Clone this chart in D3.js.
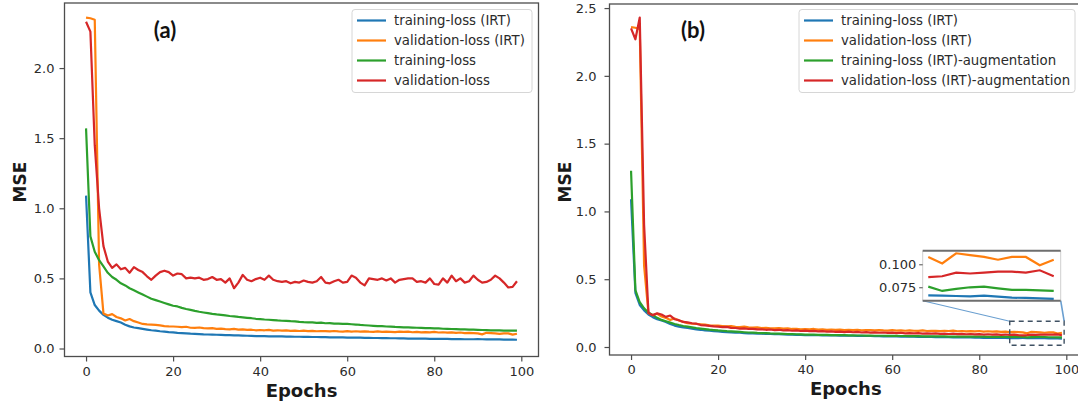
<!DOCTYPE html>
<html>
<head>
<meta charset="utf-8">
<script src="https://cdn.jsdelivr.net/npm/d3@7"></script>
<style>
  body { margin: 0; background: #fff; }
  text { font-family: "DejaVu Sans", sans-serif; fill: #2b2b2b; }
</style>
</head>
<body>
<svg id="chart" width="1078" height="406"></svg>
<script>
// values, one per epoch (0..99)
const trainIRT = [1.09,0.40,0.31,0.27,0.24,0.22,0.205,0.195,0.185,0.17,
  0.158,0.15,0.145,0.14,0.135,0.13,0.127,0.123,0.12,0.117,
  0.115,0.112,0.11,0.108,0.106,0.105,0.103,0.101,0.1,0.099,
  0.098,0.097,0.096,0.095,0.094,0.093,0.092,0.091,0.09,0.089,
  0.088,0.088,0.087,0.087,0.086,0.086,0.085,0.085,0.084,0.084,
  0.083,0.083,0.082,0.082,0.081,0.081,0.08,0.08,0.079,0.079,
  0.078,0.078,0.077,0.077,0.076,0.076,0.075,0.075,0.074,0.074,
  0.073,0.073,0.072,0.072,0.071,0.071,0.07,0.07,0.07,0.069,
  0.069,0.068,0.068,0.068,0.067,0.067,0.067,0.066,0.066,0.066,
  0.0663,0.0659,0.0655,0.0652,0.0659,0.0648,0.0637,0.0634,0.063,0.0623];

const valIRT = [2.36,2.355,2.345,0.6,0.25,0.235,0.245,0.225,0.215,0.2,
  0.21,0.195,0.185,0.175,0.172,0.17,0.168,0.165,0.16,0.158,
  0.157,0.155,0.152,0.155,0.148,0.147,0.15,0.145,0.143,0.145,
  0.14,0.142,0.138,0.137,0.14,0.135,0.137,0.133,0.134,0.13,
  0.132,0.13,0.133,0.128,0.13,0.127,0.129,0.126,0.128,0.125,
  0.127,0.124,0.126,0.123,0.125,0.124,0.122,0.125,0.122,0.121,
  0.124,0.121,0.123,0.12,0.122,0.12,0.119,0.122,0.118,0.12,
  0.119,0.117,0.12,0.118,0.121,0.116,0.118,0.115,0.117,0.115,
  0.118,0.114,0.116,0.113,0.115,0.112,0.114,0.11,0.112,0.11,
  0.108,0.101,0.112,0.11,0.108,0.105,0.108,0.108,0.099,0.105];

const trainLoss = [1.57,0.80,0.69,0.63,0.585,0.54,0.51,0.49,0.465,0.45,
  0.43,0.415,0.4,0.385,0.37,0.355,0.345,0.335,0.325,0.315,
  0.305,0.3,0.29,0.282,0.275,0.268,0.262,0.257,0.252,0.247,
  0.243,0.24,0.236,0.232,0.229,0.225,0.222,0.219,0.216,0.212,
  0.21,0.207,0.205,0.203,0.2,0.198,0.197,0.195,0.194,0.19,
  0.188,0.187,0.186,0.183,0.184,0.18,0.181,0.178,0.177,0.176,
  0.175,0.173,0.171,0.168,0.166,0.164,0.162,0.16,0.159,0.157,
  0.156,0.154,0.153,0.151,0.15,0.149,0.148,0.147,0.146,0.145,
  0.144,0.143,0.141,0.14,0.139,0.138,0.137,0.136,0.135,0.134,
  0.133,0.132,0.131,0.13,0.13,0.129,0.128,0.128,0.127,0.127];

const valLoss = [2.33,2.26,1.45,1.0,0.73,0.62,0.575,0.6,0.565,0.575,
  0.54,0.58,0.56,0.545,0.515,0.49,0.52,0.545,0.555,0.545,
  0.52,0.535,0.53,0.5,0.505,0.5,0.505,0.49,0.495,0.51,
  0.49,0.495,0.47,0.5,0.43,0.47,0.525,0.49,0.48,0.495,
  0.505,0.49,0.52,0.49,0.48,0.475,0.48,0.465,0.475,0.47,
  0.485,0.475,0.47,0.48,0.51,0.47,0.465,0.48,0.49,0.47,
  0.475,0.52,0.505,0.47,0.45,0.5,0.495,0.49,0.5,0.485,
  0.5,0.47,0.49,0.495,0.5,0.5,0.475,0.48,0.47,0.5,
  0.46,0.455,0.5,0.47,0.52,0.48,0.5,0.47,0.48,0.52,
  0.49,0.47,0.475,0.49,0.52,0.5,0.47,0.435,0.44,0.48];

const trainAug = [1.30,0.42,0.33,0.285,0.255,0.235,0.215,0.2,0.19,0.18,
  0.17,0.162,0.155,0.15,0.145,0.14,0.136,0.132,0.128,0.125,
  0.122,0.12,0.117,0.115,0.113,0.111,0.109,0.107,0.106,0.104,
  0.103,0.102,0.1,0.099,0.098,0.097,0.096,0.095,0.094,0.093,
  0.092,0.092,0.091,0.09,0.09,0.089,0.088,0.088,0.087,0.087,
  0.086,0.086,0.085,0.085,0.084,0.084,0.083,0.083,0.083,0.082,
  0.082,0.082,0.081,0.081,0.08,0.08,0.08,0.079,0.079,0.079,
  0.078,0.078,0.078,0.077,0.077,0.077,0.077,0.076,0.076,0.076,
  0.076,0.076,0.075,0.075,0.075,0.075,0.075,0.074,0.074,0.075,
  0.0757,0.071,0.0732,0.075,0.0757,0.0739,0.0721,0.0721,0.0717,0.071];

const valAug = [2.35,2.27,2.43,0.9,0.25,0.235,0.248,0.24,0.222,0.232,
  0.205,0.198,0.185,0.182,0.175,0.172,0.162,0.16,0.156,0.152,
  0.15,0.146,0.148,0.141,0.14,0.136,0.138,0.133,0.134,0.13,
  0.131,0.127,0.129,0.125,0.127,0.122,0.124,0.12,0.122,0.118,
  0.121,0.117,0.119,0.115,0.117,0.113,0.115,0.112,0.114,0.11,
  0.113,0.109,0.111,0.107,0.11,0.106,0.108,0.105,0.107,0.104,
  0.106,0.102,0.105,0.101,0.103,0.1,0.102,0.099,0.101,0.098,
  0.1,0.097,0.099,0.096,0.098,0.095,0.097,0.094,0.096,0.093,
  0.095,0.092,0.094,0.091,0.093,0.09,0.092,0.089,0.091,0.088,
  0.086,0.087,0.091,0.09,0.091,0.092,0.092,0.091,0.0935,0.087];

const xTicks = [0, 20, 40, 60, 80, 100];
const yTicksA = [0, 0.5, 1.0, 1.5, 2.0];
const yTicksB = [0, 0.5, 1.0, 1.5, 2.0, 2.5];
const insetTicks = [0.075, 0.100];
const labelsA = ["training-loss (IRT)", "validation-loss (IRT)", "training-loss", "validation-loss"];
const labelsB = ["training-loss (IRT)", "validation-loss (IRT)", "training-loss (IRT)-augmentation", "validation-loss (IRT)-augmentation"];
const colors = ["#1f77b4", "#ff7f0e", "#2ca02c", "#d62728"];

const svg = d3.select("#chart");
svg.append("rect").attr("width", 1078).attr("height", 406).attr("fill", "#fff");

const panel = (o) => {
  let x = d3.scaleLinear().domain([-4.95, 103.95]).range([o.left, o.right]);
  let y = d3.scaleLinear().domain(o.ydom).range([o.bottom, o.top]);
  let g = svg.append("g");

  let clipId = "clip" + o.name;
  g.append("clipPath").attr("id", clipId)
    .append("rect")
    .attr("x", o.left).attr("y", o.top)
    .attr("width", o.right - o.left).attr("height", o.bottom - o.top);

  let line = d3.line().x((d, i) => x(i)).y(d => y(d));
  let plot = g.append("g").attr("clip-path", `url(#${clipId})`);
  o.series.forEach((s, k) => {
    plot.append("path")
      .datum(s)
      .attr("fill", "none")
      .attr("stroke", colors[k])
      .attr("stroke-width", 2.2)
      .attr("stroke-linejoin", "round")
      .attr("d", line);
  });

  // axes
  let xa = g.append("g")
    .attr("transform", `translate(0,${o.bottom})`)
    .call(d3.axisBottom(x).tickValues(xTicks).tickSize(5).tickPadding(5).tickFormat(d3.format("d")));
  let ya = g.append("g")
    .attr("transform", `translate(${o.left},0)`)
    .call(d3.axisLeft(y).tickValues(o.yticks).tickSize(5).tickPadding(o.ypad).tickFormat(d3.format(".1f")));
  [xa, ya].forEach(a => {
    a.select(".domain").remove();
    a.selectAll("line").attr("stroke", "#4d4d4d").attr("stroke-width", 1.2);
    a.selectAll("text").style("font-size", "13px").style("fill", "#2b2b2b");
  });

  g.append("rect")
    .attr("x", o.left).attr("y", o.top)
    .attr("width", o.right - o.left).attr("height", o.bottom - o.top)
    .attr("fill", "none").attr("stroke", "#4d4d4d").attr("stroke-width", 1.3);

  g.append("text")
    .attr("x", (o.left + Math.min(o.right, 1078)) / 2 + o.xlabShift).attr("y", o.bottom + 40)
    .attr("text-anchor", "middle")
    .style("font-size", "18px").style("font-weight", "bold").style("fill", "#1a1a1a")
    .text("Epochs");

  g.append("text")
    .attr("transform", `translate(${o.ylabX},182) rotate(-90)`)
    .attr("text-anchor", "middle")
    .style("font-size", "17px").style("font-weight", "bold").style("fill", "#1a1a1a")
    .text("MSE");

  g.append("text")
    .attr("x", o.tagX).attr("y", 29)
    .attr("text-anchor", "middle").attr("dominant-baseline", "central")
    .style("font-family", "Lato, 'Open Sans', sans-serif")
    .style("font-size", "22px").style("font-weight", "bold").style("fill", "#111")
    .text(o.tag);

  // legend
  let lg = g.append("g");
  lg.append("rect")
    .attr("x", o.leg[0]).attr("y", 9.5)
    .attr("width", o.leg[1] - o.leg[0]).attr("height", 83)
    .attr("rx", 3)
    .attr("fill", "#fff").attr("fill-opacity", 0.85)
    .attr("stroke", "#d6d6d6");
  o.labels.forEach((t, k) => {
    let yy = 20.5 + k * 20;
    lg.append("line")
      .attr("x1", o.leg[0] + 5).attr("x2", o.leg[0] + 34)
      .attr("y1", yy).attr("y2", yy)
      .attr("stroke", colors[k]).attr("stroke-width", 2.2);
    lg.append("text")
      .attr("x", o.leg[0] + 42).attr("y", yy)
      .attr("dominant-baseline", "central")
      .style("font-size", "13.3px")
      .text(t);
  });

  return {x, y, g};
};

panel({
  name: "a", left: 64.5, right: 538.5, top: 3, bottom: 356.5,
  ydom: [-0.057, 2.464], yticks: yTicksA, ypad: 5, xlabShift: 0,
  ylabX: 25.5, tagX: 165, tag: "(a)", leg: [352, 532], labels: labelsA,
  series: [trainIRT, valIRT, trainLoss, valLoss]
});

const b = panel({
  name: "b", left: 609.5, right: 1083.5, top: 4, bottom: 355,
  ydom: [-0.059, 2.53], yticks: yTicksB, ypad: 8, xlabShift: 2,
  ylabX: 571, tagX: 693, tag: "(b)", leg: [799, 1075], labels: labelsB,
  series: [trainIRT, valIRT, trainAug, valAug]
});

// zoom box in panel (b) and the inset that magnifies the last epochs
const zoomX = [87, 99.5], zoomY = [0.0125, 0.19];
const insetX = [89.6, 99.5], insetY = [0.0604, 0.1148];
const ix = d3.scaleLinear().domain(insetX).range([922.7, 1060.7]);
const iy = d3.scaleLinear().domain(insetY).range([300.7, 250.7]);

const zx0 = b.x(zoomX[0]), zx1 = b.x(zoomX[1]);
const zy0 = b.y(zoomY[1]), zy1 = b.y(zoomY[0]);

b.g.append("line").attr("x1", ix.range()[0]).attr("y1", iy.range()[0]).attr("x2", zx0).attr("y2", zy0)
  .attr("stroke", "#6a9fd0").attr("stroke-width", 1.1);
b.g.append("line").attr("x1", ix.range()[1]).attr("y1", iy.range()[0]).attr("x2", zx1).attr("y2", zy0)
  .attr("stroke", "#6a9fd0").attr("stroke-width", 1.6);
b.g.append("rect")
  .attr("x", zx0).attr("y", zy0).attr("width", zx1 - zx0).attr("height", zy1 - zy0)
  .attr("fill", "none").attr("stroke", "#3f5163").attr("stroke-width", 1.4)
  .attr("stroke-dasharray", "5,4");

const ins = svg.append("g");
ins.append("clipPath").attr("id", "clipInset")
  .append("rect").attr("x", 922.7).attr("y", 250.7).attr("width", 138).attr("height", 50);
ins.append("rect").attr("x", 922.7).attr("y", 250.7).attr("width", 138).attr("height", 50).attr("fill", "#fff");
const iline = d3.line().x(d => ix(d[0])).y(d => iy(d[1]));
const ip = ins.append("g").attr("clip-path", "url(#clipInset)");
[trainIRT, valIRT, trainAug, valAug].forEach((s, k) => {
  let pts = s.map((v, i) => [i, v]).filter(d => d[0] >= 90);
  ip.append("path").datum(pts)
    .attr("fill", "none").attr("stroke", colors[k]).attr("stroke-width", 2.2)
    .attr("d", iline);
});
ins.append("line").attr("x1", 922.7).attr("x2", 922.7).attr("y1", 250.7).attr("y2", 300.7).attr("stroke", "#cfcfcf");
ins.append("line").attr("x1", 1060.7).attr("x2", 1060.7).attr("y1", 250.7).attr("y2", 300.7).attr("stroke", "#cfcfcf");
ins.append("line").attr("x1", 922.7).attr("x2", 1060.7).attr("y1", 250.7).attr("y2", 250.7).attr("stroke", "#6e6e6e").attr("stroke-width", 2);
ins.append("line").attr("x1", 922.7).attr("x2", 1060.7).attr("y1", 300.7).attr("y2", 300.7).attr("stroke", "#6e6e6e").attr("stroke-width", 2);
const iax = ins.append("g").attr("transform", "translate(922.7,0)")
  .call(d3.axisLeft(iy).tickValues(insetTicks).tickSize(3.5).tickPadding(3).tickFormat(d3.format(".3f")));
iax.select(".domain").remove();
iax.selectAll("line").attr("stroke", "#4d4d4d");
iax.selectAll("text").style("font-size", "13px").style("fill", "#2b2b2b");
</script>
</body>
</html>
